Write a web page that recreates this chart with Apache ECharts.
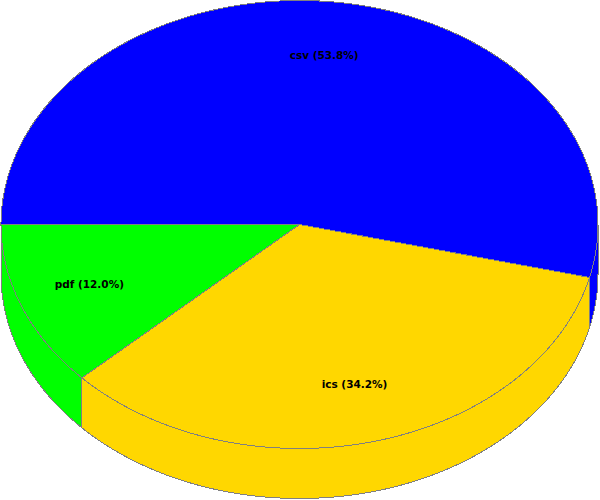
<!DOCTYPE html>
<html><head><meta charset="utf-8">
<style>html,body{margin:0;padding:0;background:#fff}#c{width:600px;height:500px}
#c svg path{shape-rendering:crispEdges}</style>
<script src="https://cdn.jsdelivr.net/npm/echarts@6/dist/echarts.min.js"></script>
</head><body><div id="c"></div>
<script>
var categories = ['csv', 'ics', 'pdf'];
var shares = [53.8, 34.2, 12.0];
var sliceColors = ['#0000ff', '#ffd700', '#00ff00'];

var CX = 299.5, CY = 224.5, RX = 298.5, RY = 224, DEPTH = 50, START = 180;
var EDGE = '#808080';
var total = shares.reduce(function (a, b) { return a + b; }, 0);
function range(i) {
  var before = 0;
  for (var k = 0; k < i; k++) before += shares[k];
  return [START + before / total * 360, START + (before + shares[i]) / total * 360];
}
function pt(deg, dy, k) {
  var r = deg * Math.PI / 180; k = k === undefined ? 1 : k;
  return [CX + RX * k * Math.cos(r), CY + RY * k * Math.sin(r) + (dy || 0)];
}
function arc(a, b, dy) {
  var out = [], n = Math.max(2, Math.ceil(Math.abs(b - a) * 2));
  for (var j = 0; j <= n; j++) out.push(pt(a + (b - a) * j / n, dy));
  return out;
}
function sidePolys(a, b) {
  var polys = [];
  [0, 360].forEach(function (off) {
    var s = Math.max(a, off), e = Math.min(b, off + 180);
    if (e > s) polys.push(arc(s, e, 0).concat(arc(e, s, DEPTH)));
  });
  return polys;
}
var rows = categories.map(function (c, i) { return [i, shares[i]]; });
var style = function (i) { return { fill: sliceColors[i], stroke: EDGE, lineWidth: 1 }; };

var chart = echarts.init(document.getElementById('c'), null, { renderer: 'svg', width: 600, height: 500 });
chart.setOption({
  animation: false,
  backgroundColor: '#fff',
  series: [
    { type: 'custom', coordinateSystem: 'none', silent: true, z: 1, data: rows,
      renderItem: function (p, api) {
        var i = api.value(0), r = range(i);
        return { type: 'group', children: sidePolys(r[0], r[1]).map(function (poly) {
          return { type: 'polygon', shape: { points: poly }, style: style(i) };
        }) };
      } },
    { type: 'custom', coordinateSystem: 'none', silent: true, z: 2, data: rows,
      renderItem: function (p, api) {
        var i = api.value(0), r = range(i);
        return { type: 'polygon', shape: { points: [[CX, CY]].concat(arc(r[0], r[1], 0)) }, style: style(i) };
      } },
    { type: 'custom', coordinateSystem: 'none', silent: true, z: 3, data: rows,
      renderItem: function (p, api) {
        var i = api.value(0), r = range(i), m = pt((r[0] + r[1]) / 2, 0, 0.75);
        return { type: 'text', style: {
          x: m[0] - 2, y: m[1] - 2.5, align: 'center', verticalAlign: 'middle',
          text: categories[i] + ' (' + api.value(1).toFixed(1) + '%)',
          font: 'bold 10.5px "DejaVu Sans"', fill: '#000'
        } };
      } }
  ]
});
</script></body></html>
